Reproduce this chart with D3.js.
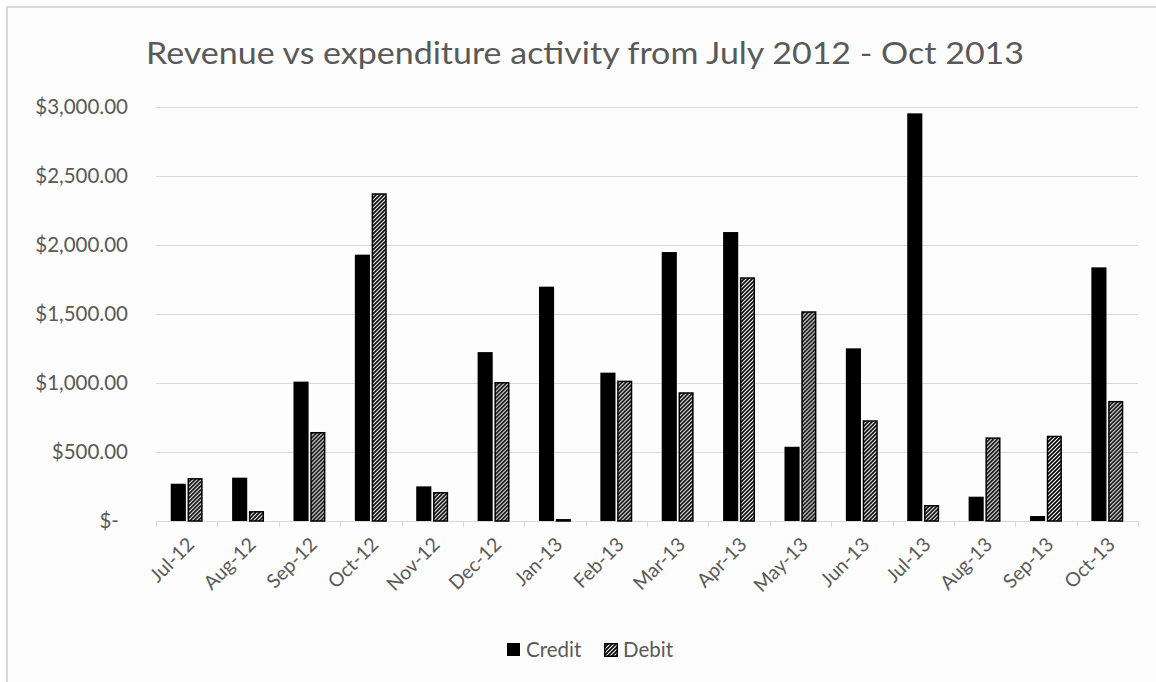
<!DOCTYPE html>
<html>
<head>
<meta charset="utf-8">
<script src="https://cdn.jsdelivr.net/npm/d3@7"></script>
<style>
  html, body { margin: 0; padding: 0; background: #ffffff; }
  svg { display: block; }
  text { font-family: Lato, "Open Sans", sans-serif; fill: #595959; }
</style>
</head>
<body>
<svg id="chart" width="1156" height="682"></svg>
<script>
const categories = ["Jul-12","Aug-12","Sep-12","Oct-12","Nov-12","Dec-12","Jan-13","Feb-13","Mar-13","Apr-13","May-13","Jun-13","Jul-13","Aug-13","Sep-13","Oct-13"];
const credit = [270, 314, 1010, 1930, 251, 1224, 1698, 1075, 1949, 2094, 538, 1251, 2954, 176, 36, 1838];
const debit  = [311, 72, 645, 2375, 210, 1007, 14, 1017, 933, 1766, 1520, 730, 116, 606, 618, 870];
const yTicks = [0, 500, 1000, 1500, 2000, 2500, 3000];
const seriesNames = ["Credit", "Debit"];
const title = "Revenue vs expenditure activity from July 2012 - Oct 2013";

const svg = d3.select("#chart");
const W = 1156, H = 682;

// hatch pattern
const defs = svg.append("defs");
const pat = defs.append("pattern")
  .attr("id", "hatch").attr("patternUnits", "userSpaceOnUse")
  .attr("width", 4).attr("height", 4);
pat.append("rect").attr("width", 4).attr("height", 4).attr("fill", "#ffffff");
pat.append("path").attr("d", "M-1,1 l2,-2 M0,4 l4,-4 M3,5 l2,-2")
  .attr("stroke", "#000").attr("stroke-width", 1.7);

// chart background & border
svg.append("rect").attr("x", 7).attr("y", 7).attr("width", W + 10).attr("height", H + 10)
  .attr("fill", "#fdfdfd").attr("stroke", "#d9d9d9").attr("stroke-width", 2);

const plot = { left: 156, right: 1138, top: 107, bottom: 521 };

const x0 = d3.scaleBand().domain(categories).range([plot.left, plot.right])
  .paddingInner(0.48).paddingOuter(0.24);
const x1 = d3.scaleBand().domain(seriesNames).range([0, x0.bandwidth()]).paddingInner(0.1);
const y = d3.scaleLinear().domain([0, 3000]).range([plot.bottom, plot.top]);
const step = x0.step();

// title
svg.append("text").attr("x", 585).attr("y", 64)
  .attr("text-anchor", "middle").attr("font-size", 31)
  .attr("textLength", 878).attr("lengthAdjust", "spacingAndGlyphs")
  .text(title);

// gridlines
svg.append("g").selectAll("line").data(yTicks.filter(d => d > 0)).join("line")
  .attr("x1", plot.left).attr("x2", plot.right)
  .attr("y1", d => Math.round(y(d)) + 0.5).attr("y2", d => Math.round(y(d)) + 0.5)
  .attr("stroke", "#d9d9d9").attr("stroke-width", 1);

// y labels
const fmt = d => d === 0 ? "$-" : "$" + d3.format(",.2f")(d);
svg.append("g").selectAll("text").data(yTicks).join("text")
  .attr("x", d => d === 0 ? 119 : 128)
  .attr("y", d => y(d)).attr("dy", "0.35em")
  .attr("text-anchor", "end").attr("font-size", 20.5)
  .text(fmt);

// x axis line & ticks
const ax = svg.append("g");
ax.append("line").attr("x1", plot.left).attr("x2", plot.right)
  .attr("y1", plot.bottom + 0.5).attr("y2", plot.bottom + 0.5)
  .attr("stroke", "#d9d9d9").attr("stroke-width", 1);
const tickXs = d3.range(categories.length + 1).map(i => plot.left + i * step);
ax.selectAll("line.tk").data(tickXs).join("line").attr("class", "tk")
  .attr("x1", d => Math.round(d) + 0.5).attr("x2", d => Math.round(d) + 0.5)
  .attr("y1", plot.bottom).attr("y2", plot.bottom + 6)
  .attr("stroke", "#d9d9d9").attr("stroke-width", 1);

// x labels
svg.append("g").selectAll("text").data(categories).join("text")
  .attr("transform", d => `translate(${x0(d) + x0.bandwidth() / 2 + 4},${plot.bottom + 20}) rotate(-45)`)
  .attr("text-anchor", "end").attr("dy", "0.35em").attr("font-size", 19.5)
  .text(d => d);

// bars
const rows = categories.map((c, i) => ({ c, vals: [credit[i], debit[i]] }));
const groups = svg.append("g").selectAll("g").data(rows).join("g")
  .attr("transform", d => `translate(${x0(d.c)},0)`);
groups.selectAll("rect").data(d => d.vals.map((v, j) => ({ v, s: seriesNames[j] }))).join("rect")
  .attr("x", d => x1(d.s) + (d.s === "Debit" ? 0.75 : 0))
  .attr("width", d => x1.bandwidth() - (d.s === "Debit" ? 1.5 : 0))
  .attr("y", d => y(d.v) + (d.s === "Debit" ? 0.75 : 0))
  .attr("height", d => Math.max(0, y(0) - y(d.v) - (d.s === "Debit" ? 0.75 : 0)))
  .attr("fill", d => d.s === "Credit" ? "#000000" : "url(#hatch)")
  .attr("stroke", d => d.s === "Credit" ? "none" : "#000000")
  .attr("stroke-width", 1.5);

// legend
const leg = svg.append("g");
const legItems = [
  { name: "Credit", x: 507 },
  { name: "Debit", x: 604 }
];
legItems.forEach(it => {
  leg.append("rect").attr("x", it.x + (it.name === "Debit" ? 0.75 : 0)).attr("y", 643 + (it.name === "Debit" ? 0.75 : 0))
    .attr("width", it.name === "Debit" ? 12.5 : 13).attr("height", it.name === "Debit" ? 12.5 : 13)
    .attr("fill", it.name === "Credit" ? "#000" : "url(#hatch)")
    .attr("stroke", it.name === "Credit" ? "none" : "#000").attr("stroke-width", 1.5);
  leg.append("text").attr("x", it.x + 19).attr("y", 650).attr("dy", "0.35em")
    .attr("font-size", 20.5).text(it.name);
});
</script>
</body>
</html>
